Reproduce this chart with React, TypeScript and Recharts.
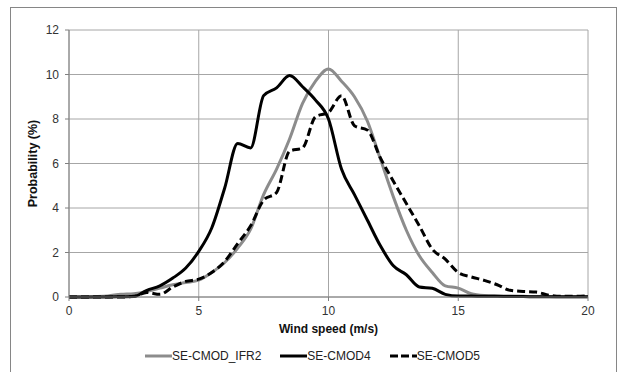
import { LineChart, Line, XAxis, YAxis, CartesianGrid } from 'recharts'

const speeds = [
  0, 0.5, 1, 1.5, 2, 2.5, 3, 3.5, 4, 4.5, 5, 5.5, 6, 6.5, 7, 7.5, 8, 8.5, 9, 9.5, 10,
  10.5, 11, 11.5, 12, 12.5, 13, 13.5, 14, 14.5, 15, 15.5, 16, 16.5, 17, 17.5, 18, 18.5, 19, 19.5, 20,
]

const ifr2 = [
  0, 0, 0.02, 0.05, 0.12, 0.15, 0.25, 0.4, 0.55, 0.65, 0.76, 1.1, 1.55, 2.2, 3.05, 4.6, 5.75, 7.1, 8.7, 9.7, 10.25,
  9.7, 9.0, 7.9, 6.2, 4.5, 3.0, 1.85, 1.1, 0.5, 0.4, 0.15, 0.07, 0.05, 0.04, 0.03, 0.02, 0.02, 0.01, 0.01, 0.01,
]

const cmod4 = [
  0, 0, 0, 0, 0.01, 0.02, 0.3, 0.5, 0.85, 1.3, 2.05, 3.1, 4.9, 6.9, 6.7, 9.05, 9.4, 9.95, 9.45, 8.85, 8.0,
  5.75, 4.6, 3.45, 2.3, 1.4, 1.0, 0.45, 0.39, 0.12, 0.04, 0.04, 0.03, 0.03, 0.02, 0.02, 0.01, 0.01, 0.01, 0.01, 0.01,
]

const cmod5 = [
  0, 0, 0, 0, 0, 0.03, 0.2, 0.12, 0.45, 0.7, 0.8, 1.1, 1.6, 2.4, 3.2, 4.35, 4.7, 6.55, 6.7, 8.1, 8.3,
  9.05, 7.7, 7.5, 6.25, 5.2, 4.2, 3.2, 2.15, 1.7, 1.1, 0.9, 0.75, 0.55, 0.3, 0.25, 0.22, 0.08, 0.03, 0.03, 0.05,
]

const xTicks = [0, 5, 10, 15, 20]
const yTicks = [0, 2, 4, 6, 8, 10, 12]

const data = speeds.map((s, i) => ({ speed: s, ifr2: ifr2[i], cmod4: cmod4[i], cmod5: cmod5[i] }))

const FONT = '"Liberation Sans", Arial, sans-serif'
const GRID = '#a6a6a6'
const GREY = '#8c8c8c'

const legendItems = [
  { label: 'SE-CMOD_IFR2', color: GREY, dash: undefined },
  { label: 'SE-CMOD4', color: '#000', dash: undefined },
  { label: 'SE-CMOD5', color: '#000', dash: '8 3' },
]

export default function App() {
  return (
    <div style={{ position: 'absolute', left: 0, top: 0, width: 618, height: 372, background: '#fff', overflow: 'hidden', fontFamily: FONT }}>
      <div style={{ position: 'absolute', left: 10, top: 7, width: 605, height: 400, border: '1px solid #868686' }} />
      <LineChart
        width={618}
        height={372}
        data={data}
        margin={{ top: 30, right: 30, bottom: 30, left: 0 }}
        style={{ position: 'absolute', left: 0, top: 0 }}
      >
        <CartesianGrid stroke={GRID} />
        <XAxis
          dataKey="speed"
          type="number"
          domain={[0, 20]}
          ticks={xTicks}
          height={45}
          tickSize={4}
          tickMargin={5}
          stroke="#808080"
          tick={{ fill: '#333', fontSize: 12, fontFamily: FONT }}
          label={{ value: 'Wind speed (m/s)', position: 'insideBottom', offset: 9, fill: '#111', fontSize: 12, fontWeight: 'bold', fontFamily: FONT }}
        />
        <YAxis
          type="number"
          domain={[0, 12]}
          ticks={yTicks}
          width={69}
          tickSize={4}
          tickMargin={6}
          stroke="#808080"
          tick={{ fill: '#333', fontSize: 12, fontFamily: FONT }}
          label={{ value: 'Probability (%)', angle: -90, position: 'insideLeft', offset: 33, style: { textAnchor: 'middle' }, fill: '#111', fontSize: 12.5, fontWeight: 'bold', fontFamily: FONT }}
        />
        <Line type="monotone" dataKey="ifr2" stroke={GREY} strokeWidth={3} dot={false} isAnimationActive={false} />
        <Line type="monotone" dataKey="cmod5" stroke="#000" strokeWidth={3} strokeDasharray="8 4" dot={false} isAnimationActive={false} />
        <Line type="monotone" dataKey="cmod4" stroke="#000" strokeWidth={3} dot={false} isAnimationActive={false} />
      </LineChart>
      <div style={{ position: 'absolute', left: 145, top: 349, display: 'flex', alignItems: 'center', fontSize: 12, color: '#222' }}>
        {legendItems.map((it, i) => (
          <div key={it.label} style={{ display: 'flex', alignItems: 'center', marginLeft: i === 0 ? 0 : 19 }}>
            <svg width={27} height={10}>
              <line x1={0} y1={5} x2={27} y2={5} stroke={it.color} strokeWidth={3} strokeDasharray={it.dash} />
            </svg>
            <span>{it.label}</span>
          </div>
        ))}
      </div>
    </div>
  )
}
